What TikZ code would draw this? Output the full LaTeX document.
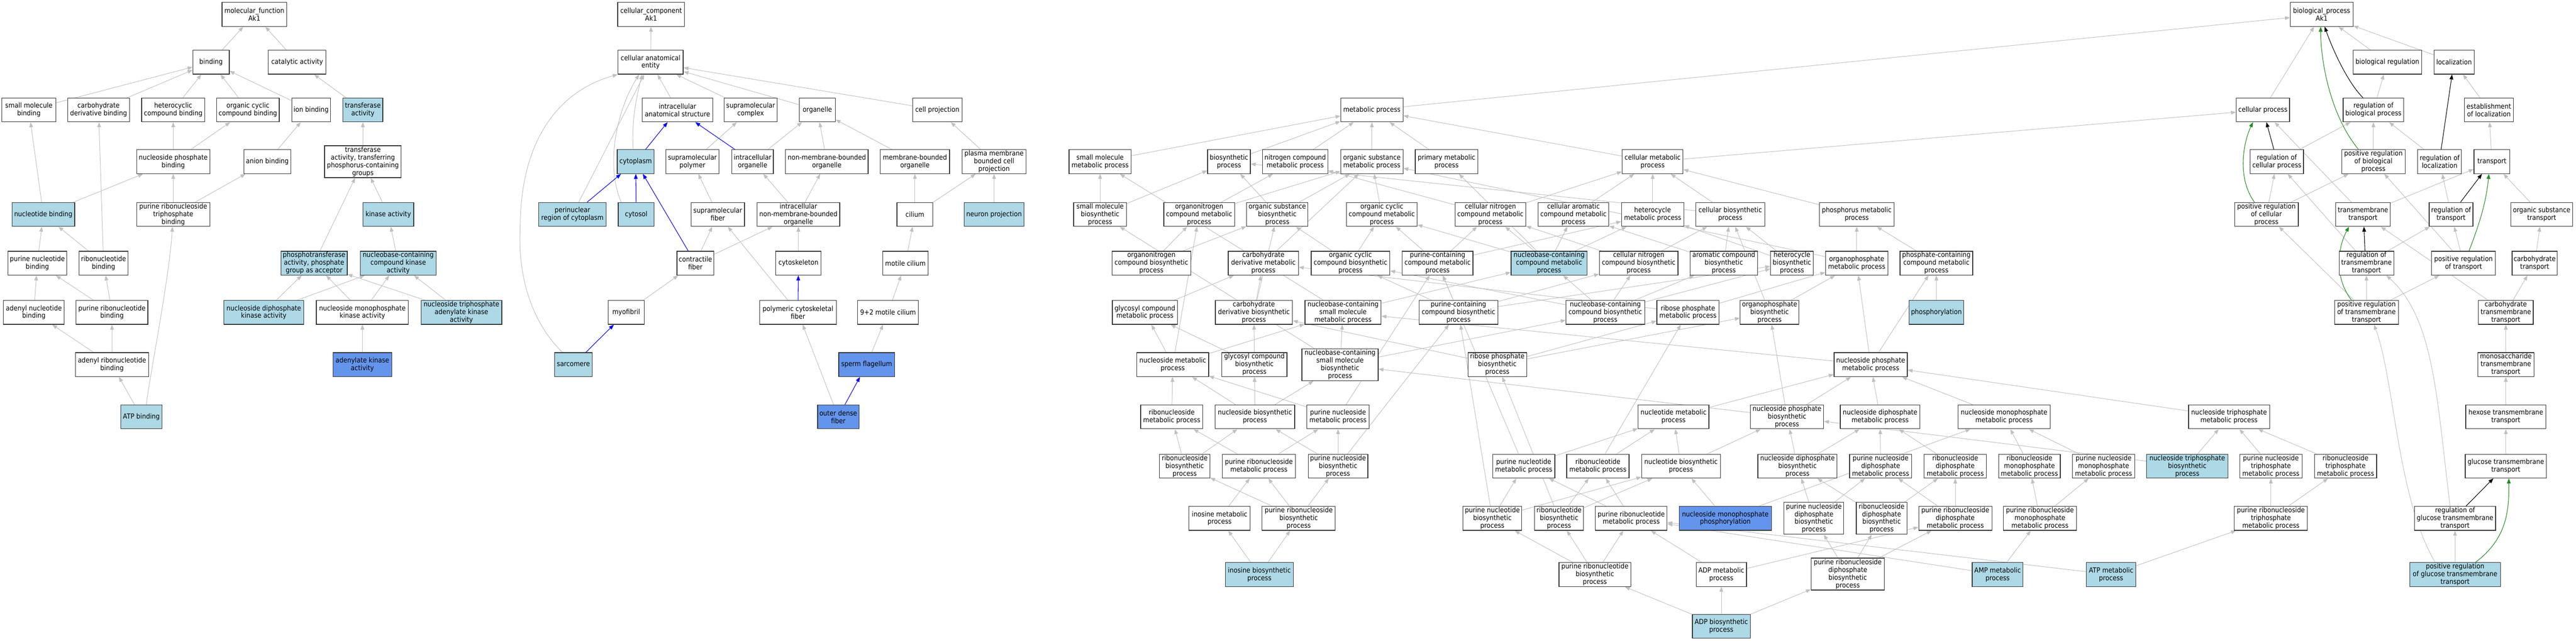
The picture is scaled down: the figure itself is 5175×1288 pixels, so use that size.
\documentclass[tikz,border=0pt]{standalone}
\usepackage{fontspec}
\setmainfont{DejaVu Sans}[FakeStretch=0.9]
\usetikzlibrary{arrows.meta}
\definecolor{lb}{HTML}{ADD8E6}
\definecolor{cb}{HTML}{6495ED}
\definecolor{egray}{HTML}{C0C0C0}
\definecolor{bord}{HTML}{333333}
\definecolor{fgreen}{HTML}{228B22}
\pgfdeclarelayer{bgl}
\pgfdeclarelayer{edges}
\pgfsetlayers{bgl,edges,main}
\newcommand{\gn}[6][]{\node[gobox,minimum width=#5pt,#1] (#2) at (#3,#4) {#6};}
\tikzset{
  gobox/.style={draw=bord, line width=1.3pt, fill=white, rectangle, align=center,
    inner sep=1pt, minimum height=48pt, font=\fontsize{14}{15.5}\selectfont},
  lb/.style={fill=lb},
  cb/.style={fill=cb},
  tall/.style={minimum height=64pt},
  ge/.style={draw=egray, line width=1pt, -{Triangle[length=10pt,width=7.5pt]}},
  be/.style={draw=blue, line width=1.1pt, -{Triangle[length=10pt,width=7.5pt]}},
  ke/.style={draw=black, line width=1.1pt, -{Triangle[length=10pt,width=7.5pt]}},
  gre/.style={draw=fgreen, line width=1.1pt, -{Triangle[length=10pt,width=7.5pt]}}
}
\begin{document}
\begin{tikzpicture}[x=1pt,y=-1pt]
\begin{pgfonlayer}{bgl}
\fill[white] (0,0) rectangle (5175,1288);
\end{pgfonlayer}
\useasboundingbox (0,0) rectangle (5175,1288);
% ---------------- molecular function ----------------
\gn{mf}{511}{29}{130}{molecular\_function\\Ak1}
\gn{binding}{424}{125}{73}{binding}
\gn{catal}{597}{125}{116}{catalytic activity}
\gn{smb}{58}{221}{108}{small molecule\\binding}
\gn{cdb}{198}{221}{124}{carbohydrate\\derivative binding}
\gn{hcb}{348}{221}{127}{heterocyclic\\compound binding}
\gn{occb}{498}{221}{126}{organic cyclic\\compound binding}
\gn{ionb}{625}{221}{78}{ion binding}
\gn[lb]{trans}{729}{221}{80}{transferase\\activity}
\gn{npb}{348}{325}{147}{nucleoside phosphate\\binding}
\gn{anb}{537}{325}{94}{anion binding}
\gn[tall]{tpg}{729}{325}{154}{transferase\\activity, transferring\\phosphorus-containing\\groups}
\gn[lb]{ntb}{87}{431}{126}{nucleotide binding}
\gn{prtb}{348}{431}{147}{purine ribonucleoside\\triphosphate\\binding}
\gn[lb]{kin}{780}{431}{102}{kinase activity}
\gn{pnb}{75}{529}{118}{purine nucleotide\\binding}
\gn{rnb}{208}{529}{98}{ribonucleotide\\binding}
\gn[lb]{ptase}{631}{529}{133}{phosphotransferase\\activity, phosphate\\group as acceptor}
\gn[lb]{nbck}{800}{529}{152}{nucleobase-containing\\compound kinase\\activity}
\gn{adnb}{68}{628}{122}{adenyl nucleotide\\binding}
\gn{prnb}{225}{628}{144}{purine ribonucleotide\\binding}
\gn[lb]{ndk}{530}{628}{160}{nucleoside diphosphate\\kinase activity}
\gn{nmk}{728}{628}{185}{nucleoside monophosphate\\kinase activity}
\gn[lb]{ntak}{927}{628}{162}{nucleoside triphosphate\\adenylate kinase\\activity}
\gn{arnb}{225}{733}{147}{adenyl ribonucleotide\\binding}
\gn[cb]{adk}{728}{733}{118}{adenylate kinase\\activity}
\gn[lb]{atpb}{284}{838}{83}{ATP binding}
% ---------------- cellular component ----------------
\gn{cc}{1308}{29}{134}{cellular\_component\\Ak1}
\gn{cae}{1307}{125}{131}{cellular anatomical\\entity}
\gn{ias}{1361}{221}{142}{intracellular\\anatomical structure}
\gn{smc}{1508}{221}{107}{supramolecular\\complex}
\gn{org}{1642}{221}{72}{organelle}
\gn{cp}{1883}{221}{99}{cell projection}
\gn[lb]{cyto}{1277}{325}{74}{cytoplasm}
\gn{smp}{1391}{325}{107}{supramolecular\\polymer}
\gn{io}{1512}{325}{83}{intracellular\\organelle}
\gn{nmbo}{1661}{325}{166}{non-membrane-bounded\\organelle}
\gn{mbo}{1838}{325}{139}{membrane-bounded\\organelle}
\gn{pmbcp}{1997}{325}{128}{plasma membrane\\bounded cell\\projection}
\gn[lb]{peri}{1150}{431}{136}{perinuclear\\region of cytoplasm}
\gn[lb]{cytosol}{1278}{431}{72}{cytosol}
\gn{smf}{1442}{431}{107}{supramolecular\\fiber}
\gn{inmbo}{1604}{431}{166}{intracellular\\non-membrane-bounded\\organelle}
\gn{cilium}{1838}{431}{72}{cilium}
\gn[lb]{np}{1997}{431}{120}{neuron projection}
\gn{cf}{1397}{529}{74}{contractile\\fiber}
\gn{csk}{1604}{529}{91}{cytoskeleton}
\gn{mc}{1819}{529}{91}{motile cilium}
\gn{myo}{1258}{628}{72}{myofibril}
\gn{pcf}{1603}{628}{154}{polymeric cytoskeletal\\fiber}
\gn{m92}{1784}{628}{122}{9+2 motile cilium}
\gn[lb]{sarc}{1152}{733}{75}{sarcomere}
\gn[cb]{sf}{1741}{733}{112}{sperm flagellum}
\gn[cb]{odf}{1684}{838}{83}{outer dense\\fiber}
% ---------------- biological process ----------------
\gn{bp}{4664}{29}{126}{biological\_process\\Ak1}
\gn{breg}{4796}{125}{138}{biological regulation}
\gn{loc}{4930}{125}{81}{localization}
\gn{mp}{2756}{221}{125}{metabolic process}
\gn{cproc}{4546}{221}{107}{cellular process}
\gn{rbp}{4768}{221}{122}{regulation of\\biological process}
\gn{eloc}{5000}{221}{99}{establishment\\of localization}
\gn{smmp}{2210}{325}{125}{small molecule\\metabolic process}
\gn{bsp}{2469}{325}{86}{biosynthetic\\process}
\gn{ncmp}{2602}{325}{131}{nitrogen compound\\metabolic process}
\gn{osmp}{2756}{325}{125}{organic substance\\metabolic process}
\gn{pmp}{2906}{325}{126}{primary metabolic\\process}
\gn{cmp}{3320}{325}{122}{cellular metabolic\\process}
\gn{rcp}{4574}{325}{107}{regulation of\\cellular process}
\gn{prbp}{4768}{325}{127}{positive regulation\\of biological\\process}
\gn{rloc}{4901}{325}{88}{regulation of\\localization}
\gn{tr}{5006}{325}{72}{transport}
\gn{smbp}{2210}{431}{106}{small molecule\\biosynthetic\\process}
\gn{oncmp}{2409}{431}{142}{organonitrogen\\compound metabolic\\process}
\gn{osbp}{2566}{431}{123}{organic substance\\biosynthetic\\process}
\gn{occmp}{2776}{431}{142}{organic cyclic\\compound metabolic\\process}
\gn{cncmp}{2994}{431}{142}{cellular nitrogen\\compound metabolic\\process}
\gn{cacmp}{3161}{431}{142}{cellular aromatic\\compound metabolic\\process}
\gn{hmp}{3320}{431}{125}{heterocycle\\metabolic process}
\gn{cbp}{3476}{431}{138}{cellular biosynthetic\\process}
\gn{phmp}{3730}{431}{150}{phosphorus metabolic\\process}
\gn{prcp}{4553}{431}{128}{positive regulation\\of cellular\\process}
\gn{tmt}{4747}{431}{110}{transmembrane\\transport}
\gn{rtr}{4924}{431}{88}{regulation of\\transport}
\gn{ost}{5106}{431}{124}{organic substance\\transport}
\gn{oncbp}{2313}{529}{158}{organonitrogen\\compound biosynthetic\\process}
\gn{cdmp}{2538}{529}{141}{carbohydrate\\derivative metabolic\\process}
\gn{occbp}{2713}{529}{158}{organic cyclic\\compound biosynthetic\\process}
\gn{pccmp}{2888}{529}{142}{purine-containing\\compound metabolic\\process}
\gn[lb]{nbcmp}{3112}{529}{153}{nucleobase-containing\\compound metabolic\\process}
\gn{cncbp}{3292}{529}{158}{cellular nitrogen\\compound biosynthetic\\process}
\gn{acbp}{3463}{529}{136}{aromatic compound\\biosynthetic\\process}
\gn{hbp}{3600}{529}{86}{heterocycle\\biosynthetic\\process}
\gn{opmp}{3730}{529}{125}{organophosphate\\metabolic process}
\gn{phcmp}{3890}{529}{146}{phosphate-containing\\compound metabolic\\process}
\gn{rtmt}{4754}{529}{110}{regulation of\\transmembrane\\transport}
\gn{prtr}{4949}{529}{128}{positive regulation\\of transport}
\gn{ct}{5092}{529}{91}{carbohydrate\\transport}
\gn{gcmp}{2300}{628}{131}{glycosyl compound\\metabolic process}
\gn{cdbp}{2519}{628}{155}{carbohydrate\\derivative biosynthetic\\process}
\gn{nbsmmp}{2698}{628}{153}{nucleobase-containing\\small molecule\\metabolic process}
\gn{pccbp}{2930}{628}{158}{purine-containing\\compound biosynthetic\\process}
\gn{nbcbp}{3225}{628}{158}{nucleobase-containing\\compound biosynthetic\\process}
\gn{rpmp}{3391}{628}{125}{ribose phosphate\\metabolic process}
\gn{opbp}{3555}{628}{118}{organophosphate\\biosynthetic\\process}
\gn[lb]{phos}{3890}{628}{110}{phosphorylation}
\gn{prtmt}{4754}{628}{128}{positive regulation\\of transmembrane\\transport}
\gn{ctmt}{5034}{628}{110}{carbohydrate\\transmembrane\\transport}
\gn{nsmp}{2356}{733}{144}{nucleoside metabolic\\process}
\gn{gcbp}{2520}{733}{131}{glycosyl compound\\biosynthetic\\process}
\gn[tall]{nbsmbp}{2692}{733}{153}{nucleobase-containing\\small molecule\\biosynthetic\\process}
\gn{rpbp}{3008}{733}{118}{ribose phosphate\\biosynthetic\\process}
\gn{npmp}{3758}{733}{147}{nucleoside phosphate\\metabolic process}
\gn{mstmt}{5034}{733}{113}{monosaccharide\\transmembrane\\transport}
\gn{rnsmp}{2354}{838}{125}{ribonucleoside\\metabolic process}
\gn{nsbp}{2521}{838}{160}{nucleoside biosynthetic\\process}
\gn{pnsmp}{2688}{838}{125}{purine nucleoside\\metabolic process}
\gn{ntmp}{3362}{838}{142}{nucleotide metabolic\\process}
\gn{npbp}{3590}{838}{147}{nucleoside phosphate\\biosynthetic\\process}
\gn{ndpmp}{3777}{838}{160}{nucleoside diphosphate\\metabolic process}
\gn{nmpmp}{4026}{838}{185}{nucleoside monophosphate\\metabolic process}
\gn{ntpmp}{4478}{838}{163}{nucleoside triphosphate\\metabolic process}
\gn{htmt}{5034}{838}{161}{hexose transmembrane\\transport}
\gn{rnsbp}{2380}{937}{101}{ribonucleoside\\biosynthetic\\process}
\gn{prnsmp}{2529}{937}{147}{purine ribonucleoside\\metabolic process}
\gn{pnsbp}{2688}{937}{120}{purine nucleoside\\biosynthetic\\process}
\gn{pntmp}{3061}{937}{125}{purine nucleotide\\metabolic process}
\gn{rntmp}{3210}{937}{125}{ribonucleotide\\metabolic process}
\gn{ntbp}{3377}{937}{158}{nucleotide biosynthetic\\process}
\gn{ndpbp}{3611}{937}{159}{nucleoside diphosphate\\biosynthetic\\process}
\gn{pndpmp}{3778}{937}{125}{purine nucleoside\\diphosphate\\metabolic process}
\gn{rndpmp}{3928}{937}{125}{ribonucleoside\\diphosphate\\metabolic process}
\gn{rnmpmp}{4077}{937}{124}{ribonucleoside\\monophosphate\\metabolic process}
\gn{pnmpmp}{4226}{937}{125}{purine nucleoside\\monophosphate\\metabolic process}
\gn[lb]{ntpbp}{4394}{937}{163}{nucleoside triphosphate\\biosynthetic\\process}
\gn{pntpmp}{4562}{937}{125}{purine nucleoside\\triphosphate\\metabolic process}
\gn{rntpmp}{4712}{937}{125}{ribonucleoside\\triphosphate\\metabolic process}
\gn{gtmt}{5034}{937}{163}{glucose transmembrane\\transport}
\gn{inomp}{2450}{1042}{123}{inosine metabolic\\process}
\gn{prnsbp}{2609}{1042}{147}{purine ribonucleoside\\biosynthetic\\process}
\gn{pntbp}{2998}{1042}{118}{purine nucleotide\\biosynthetic\\process}
\gn{rntbp}{3132}{1042}{98}{ribonucleotide\\biosynthetic\\process}
\gn{prntmp}{3277}{1042}{144}{purine ribonucleotide\\metabolic process}
\gn[cb]{nmpphos}{3466}{1042}{185}{nucleoside monophosphate\\phosphorylation}
\gn[tall]{pndpbp}{3644}{1042}{120}{purine nucleoside\\diphosphate\\biosynthetic\\process}
\gn[tall]{rndpbp}{3780}{1042}{102}{ribonucleoside\\diphosphate\\biosynthetic\\process}
\gn{prndpmp}{3928}{1042}{147}{purine ribonucleoside\\diphosphate\\metabolic process}
\gn{prnmpmp}{4098}{1042}{147}{purine ribonucleoside\\monophosphate\\metabolic process}
\gn{prntpmp}{4562}{1042}{147}{purine ribonucleoside\\triphosphate\\metabolic process}
\gn{rgtmt}{4932}{1042}{163}{regulation of\\glucose transmembrane\\transport}
\gn[lb]{inobp}{2530}{1155}{136}{inosine biosynthetic\\process}
\gn{prntbp}{3204}{1155}{144}{purine ribonucleotide\\biosynthetic\\process}
\gn{adpmp}{3458}{1155}{101}{ADP metabolic\\process}
\gn[tall]{prndpbp}{3712}{1154}{147}{purine ribonucleoside\\diphosphate\\biosynthetic\\process}
\gn[lb]{ampmp}{4013}{1155}{102}{AMP metabolic\\process}
\gn[lb]{atpmp}{4241}{1155}{99}{ATP metabolic\\process}
\gn[lb]{pgtmt}{4932}{1155}{182}{positive regulation\\of glucose transmembrane\\transport}
\gn[lb]{adpbp}{3458}{1259}{116}{ADP biosynthetic\\process}
% ---------------- edges ----------------
\begin{pgfonlayer}{edges}
\foreach \a/\b in {binding/mf, catal/mf, smb/binding, cdb/binding, hcb/binding, occb/binding, ionb/binding,
  trans/catal, npb/hcb, npb/occb, anb/ionb, tpg/trans, ntb/smb, ntb/npb, prtb/npb, prtb/anb, kin/tpg, ptase/tpg,
  nbck/kin, pnb/ntb, rnb/ntb, rnb/cdb, adnb/pnb, prnb/pnb, prnb/rnb, ndk/ptase, ndk/nbck, nmk/ptase, nmk/nbck,
  ntak/ptase, ntak/nbck, arnb/adnb, arnb/prnb, adk/nmk, atpb/arnb}
  \draw[ge] (\a) -- (\b);
\draw[ge] ([xshift=10pt]atpb.north) .. controls (300,760) and (340,560) .. (prtb);
% cellular component
\foreach \a/\b in {cae/cc, ias/cae, smc/cae, org/cae, cp/cae, smp/smc, io/org, nmbo/org, mbo/org, pmbcp/cp,
  smf/smp, inmbo/io, inmbo/nmbo, cilium/mbo, cilium/pmbcp, np/pmbcp, cf/smf, cf/inmbo, csk/inmbo,
  pcf/smf, myo/cf, mc/cilium, m92/mc, sf/m92, odf/pcf, peri/cae}
  \draw[ge] (\a) -- (\b);
\draw[ge] ([xshift=-5pt]cyto.north) .. controls (1268,240) and (1280,190) .. ([xshift=-17pt]cae.south);
\draw[ge] ([xshift=-30pt]cytosol.north) .. controls (1215,330) and (1240,220) .. ([xshift=-23pt]cae.south);
\draw[ge] ([xshift=-22pt]sarc.north) .. controls (1070,650) and (1040,560) .. (1045,460)
  .. controls (1045,250) and (1150,175) .. (cae.south west);
\foreach \a/\b in {cyto/ias, peri/cyto, cytosol/cyto, cf/cyto, io/ias, pcf/csk, sarc/myo, odf/sf}
  \draw[be] (\a) -- (\b);
% biological process - gray
\foreach \a/\b in {cproc/bp, mp/bp, breg/bp, loc/bp, rbp/breg, eloc/loc,
  smmp/mp, bsp/mp, ncmp/mp, osmp/mp, pmp/mp, cmp/mp, cmp/cproc,
  rcp/rbp, prbp/rbp, rloc/rbp, tr/eloc, smbp/smmp, smbp/bsp, oncmp/ncmp, oncmp/osmp,
  osbp/bsp, osbp/osmp, occmp/osmp, cncmp/ncmp, cncmp/cmp, cacmp/cmp, hmp/cmp, cbp/cmp, cbp/bsp, phmp/cmp,
  prcp/rcp, prcp/prbp, tmt/tr, tmt/cproc, rtr/rloc, ost/tr,
  oncbp/oncmp, oncbp/osbp, cdmp/osmp, occbp/occmp, occbp/osbp,
  pccmp/occmp, pccmp/cncmp, pccmp/hmp, nbcmp/cncmp, nbcmp/cacmp, nbcmp/hmp, nbcmp/occmp, nbcmp/pmp,
  cncbp/cncmp, cncbp/cbp, acbp/cacmp, acbp/cbp, hbp/hmp, hbp/cbp, opmp/phmp, opmp/osmp, phcmp/phmp,
  rtmt/rcp, rtmt/rtr, prtr/rtr, prtr/prbp, ct/ost,
  gcmp/cdmp, cdbp/cdmp, cdbp/osbp, nbsmmp/nbcmp, nbsmmp/smmp,
  pccbp/pccmp, pccbp/occbp, pccbp/cncbp, pccbp/hbp,
  nbcbp/nbcmp, nbcbp/cncbp, nbcbp/acbp, nbcbp/hbp, nbcbp/occbp,
  rpmp/cdmp, rpmp/opmp, opbp/opmp, opbp/cbp, phos/phcmp,
  prtmt/prcp, prtmt/rtmt, prtmt/prtr, ctmt/ct, ctmt/tmt,
  nsmp/gcmp, nsmp/nbsmmp, nsmp/oncmp, gcbp/gcmp, gcbp/cdbp,
  nbsmbp/nbsmmp, nbsmbp/nbcbp, nbsmbp/smbp, rpbp/rpmp, rpbp/opbp, rpbp/cdbp,
  npmp/nbsmmp, npmp/opmp, npmp/phcmp, mstmt/ctmt,
  rnsmp/nsmp, nsbp/nsmp, nsbp/gcbp, nsbp/nbsmbp, pnsmp/nsmp, pnsmp/pccmp,
  ntmp/npmp, npbp/npmp, npbp/opbp, npbp/nbsmbp, ndpmp/npmp, nmpmp/npmp, ntpmp/npmp, htmt/mstmt,
  rnsbp/rnsmp, rnsbp/nsbp, prnsmp/rnsmp, prnsmp/pnsmp, pnsbp/pnsmp, pnsbp/nsbp, pnsbp/pccbp,
  pntmp/ntmp, pntmp/pccmp, rntmp/ntmp, rntmp/rpmp, ntbp/ntmp, ntbp/npbp,
  ndpbp/npbp, ndpbp/ndpmp, pndpmp/ndpmp, rndpmp/ndpmp, rnmpmp/nmpmp, pnmpmp/nmpmp,
  ntpbp/ntpmp, ntpbp/npbp, pntpmp/ntpmp, rntpmp/ntpmp, gtmt/htmt,
  inomp/prnsmp, prnsbp/rnsbp, prnsbp/prnsmp, prnsbp/pnsbp,
  pntbp/pntmp, pntbp/ntbp, pntbp/pccbp, rntbp/rntmp, rntbp/ntbp, rntbp/rpbp,
  prntmp/pntmp, prntmp/rntmp, nmpphos/ntbp, nmpphos/nmpmp,
  pndpbp/ndpbp, pndpbp/pndpmp, rndpbp/ndpbp, rndpbp/rndpmp,
  prndpmp/pndpmp, prndpmp/rndpmp, prnmpmp/rnmpmp, prnmpmp/pnmpmp,
  prntpmp/pntpmp, prntpmp/rntpmp,
  inobp/inomp, inobp/prnsbp, prntbp/pntbp, prntbp/rntbp, prntbp/prntmp,
  adpmp/prntmp, adpmp/prndpmp, prndpbp/pndpbp, prndpbp/rndpbp, prndpbp/prndpmp,
  ampmp/prnmpmp, ampmp/prntmp, atpmp/prntpmp, atpmp/prntmp, pgtmt/rgtmt,
  adpbp/adpmp, adpbp/prntbp, adpbp/prndpbp}
  \draw[ge] (\a) -- (\b);
\draw[ge] ([xshift=-10pt]rgtmt.north) .. controls (4895,800) and (4890,640) .. ([xshift=40pt]rtmt.south);
\draw[ge] ([xshift=-40pt]pgtmt.north) .. controls (4815,1000) and (4810,760) .. ([xshift=15pt]prtmt.south);
% biological process - black (regulates)
\draw[ke] ([xshift=-21pt]rbp.north) .. controls (4720,170) and (4690,110) .. ([xshift=6pt]bp.south);
\draw[ke] ([xshift=-6pt]rcp.north) -- ([xshift=7pt]cproc.south);
\draw[ke] ([xshift=3pt]rloc.north) -- ([xshift=-4pt]loc.south);
\draw[ke] ([xshift=19pt]rtr.north) -- ([xshift=-20pt]tr.south);
\draw[ke] ([xshift=-3pt]rtmt.north) -- ([xshift=2pt]tmt.south);
\draw[ke] ([xshift=22pt]rgtmt.north) -- ([xshift=-25pt]gtmt.south);
% biological process - green (positively regulates)
\draw[gre] ([xshift=-30pt]prbp.north) .. controls (4680,230) and (4662,120) .. ([xshift=-2pt]bp.south);
\draw[gre] ([xshift=-24pt]prcp.north) .. controls (4495,360) and (4505,290) .. ([xshift=-20pt]cproc.south);
\draw[gre] ([xshift=11pt]prtr.north) .. controls (4985,440) and (4995,400) .. ([xshift=-6pt]tr.south);
\draw[gre] ([xshift=-30pt]prtmt.north) .. controls (4690,560) and (4695,500) .. ([xshift=-28pt]tmt.south);
\draw[gre] ([xshift=41pt]pgtmt.north) .. controls (5040,1080) and (5040,1020) .. ([xshift=6pt]gtmt.south);
\end{pgfonlayer}
\end{tikzpicture}
\end{document}
